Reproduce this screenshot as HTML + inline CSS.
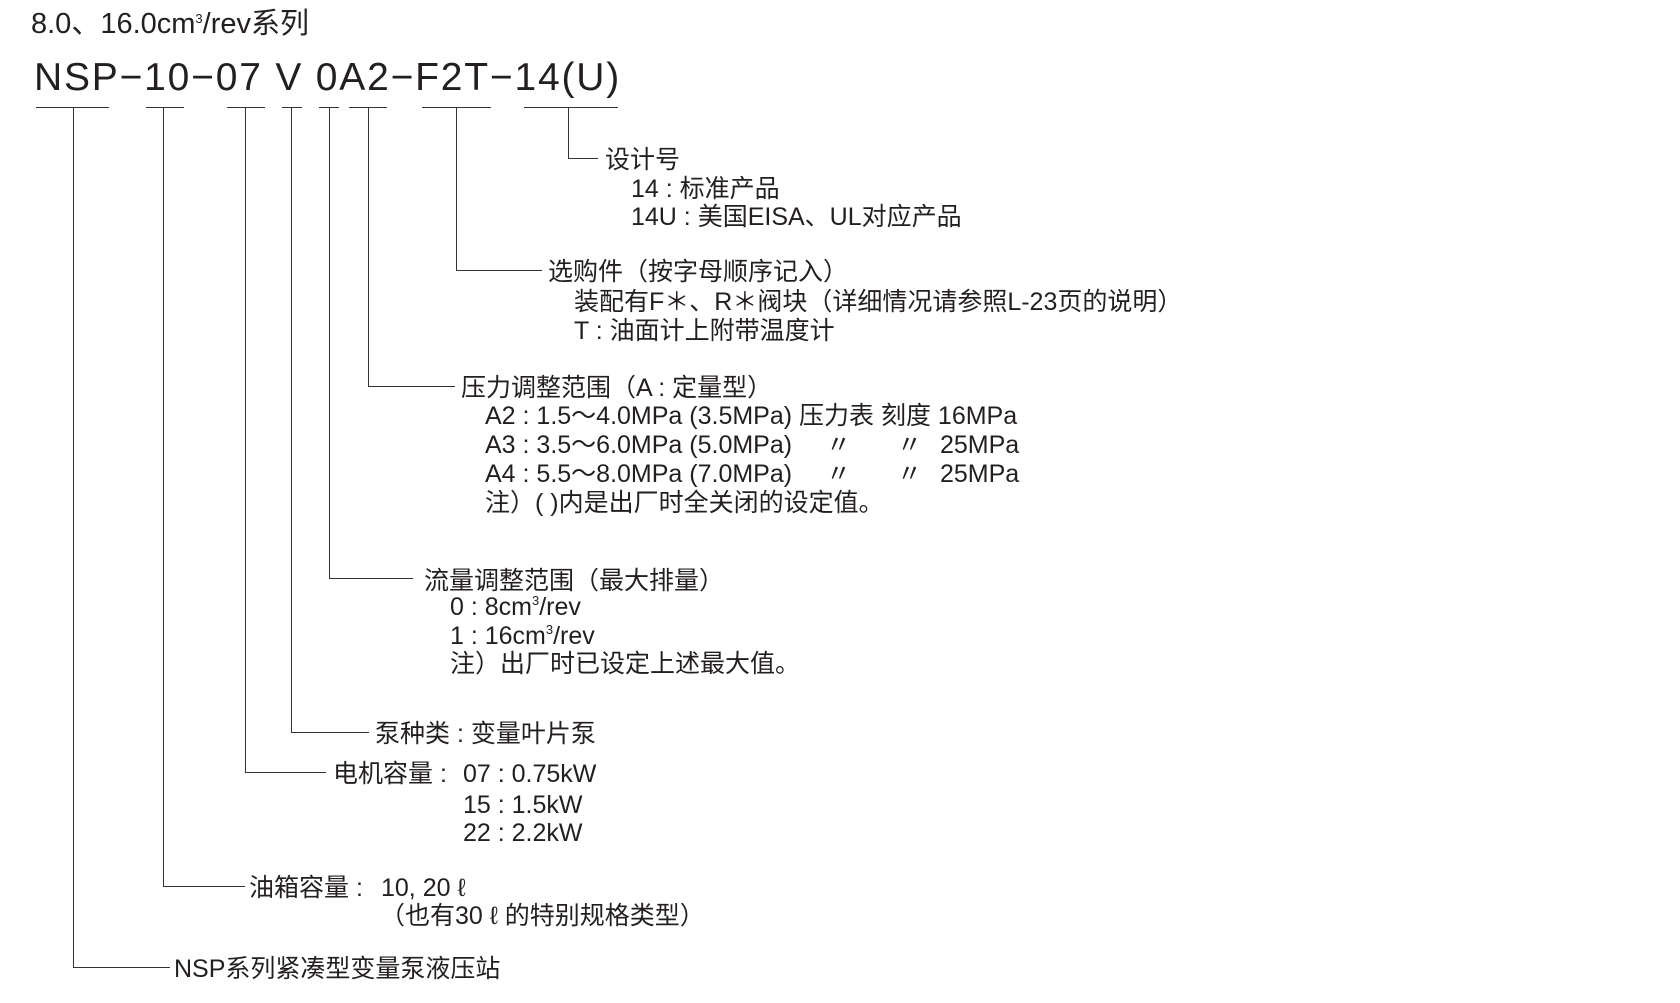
<!DOCTYPE html>
<html><head><meta charset="utf-8"><style>
body{margin:0;background:#fff;width:1680px;height:1003px;position:relative;overflow:hidden;font-family:"Liberation Sans","Noto Sans CJK SC",sans-serif;color:#231f20}
.t{position:absolute;font-size:25px;line-height:28px;white-space:pre;margin-top:3px}
.h{position:absolute;height:0;border-top:1.6px solid #333}
.v{position:absolute;width:0;border-left:1.6px solid #333}
sup{font-size:13px;vertical-align:10px;line-height:0}
</style></head><body>
<div class="t" style="left:31px;top:8px;font-size:29px;line-height:32px;margin-top:0">8.0、16.0cm<sup>3</sup>/rev系列</div>
<div class="t" style="left:34px;top:56px;font-size:39px;line-height:44px;letter-spacing:1.8px;margin-top:0">NSP−10−07 V 0A2−F2T−14(U)</div>

<div class="h" style="left:36px;width:73px;top:107px"></div>
<div class="h" style="left:146px;width:38px;top:107px"></div>
<div class="h" style="left:227px;width:38px;top:107px"></div>
<div class="h" style="left:282px;width:20px;top:107px"></div>
<div class="h" style="left:319px;width:20px;top:107px"></div>
<div class="h" style="left:349px;width:38px;top:107px"></div>
<div class="h" style="left:422px;width:69px;top:107px"></div>
<div class="h" style="left:524px;width:94px;top:107px"></div>

<div class="v" style="left:73px;top:107px;height:860px"></div>
<div class="v" style="left:163px;top:107px;height:779px"></div>
<div class="v" style="left:245px;top:107px;height:665px"></div>
<div class="v" style="left:291px;top:107px;height:625px"></div>
<div class="v" style="left:329px;top:107px;height:471px"></div>
<div class="v" style="left:368px;top:107px;height:279px"></div>
<div class="v" style="left:456px;top:107px;height:163px"></div>
<div class="v" style="left:568px;top:107px;height:51px"></div>

<div class="h" style="left:568px;width:30px;top:158px"></div>
<div class="h" style="left:456px;width:86px;top:270px"></div>
<div class="h" style="left:368px;width:87px;top:386px"></div>
<div class="h" style="left:329px;width:84px;top:578px"></div>
<div class="h" style="left:291px;width:78px;top:732px"></div>
<div class="h" style="left:245px;width:81px;top:772px"></div>
<div class="h" style="left:163px;width:82px;top:886px"></div>
<div class="h" style="left:73px;width:97px;top:967px"></div>

<div class="t" style="left:605px;top:143px">设计号</div>
<div class="t" style="left:631px;top:172px">14 : 标准产品</div>
<div class="t" style="left:631px;top:200px">14U : 美国EISA、UL对应产品</div>

<div class="t" style="left:548px;top:255px">选购件（按字母顺序记入）</div>
<div class="t" style="left:574px;top:285px">装配有F＊、R＊阀块（详细情况请参照L-23页的说明）</div>
<div class="t" style="left:574px;top:314px">T : 油面计上附带温度计</div>

<div class="t" style="left:461px;top:371px">压力调整范围（A : 定量型）</div>
<div class="t" style="left:485px;top:399px">A2 : 1.5～4.0MPa (3.5MPa) 压力表 刻度 16MPa</div>
<div class="t" style="left:485px;top:428px">A3 : 3.5～6.0MPa (5.0MPa)</div>
<div class="t" style="left:826px;top:428px">〃</div>
<div class="t" style="left:897px;top:428px">〃</div>
<div class="t" style="left:940px;top:428px">25MPa</div>
<div class="t" style="left:485px;top:457px">A4 : 5.5～8.0MPa (7.0MPa)</div>
<div class="t" style="left:826px;top:457px">〃</div>
<div class="t" style="left:897px;top:457px">〃</div>
<div class="t" style="left:940px;top:457px">25MPa</div>
<div class="t" style="left:485px;top:486px">注）( )内是出厂时全关闭的设定值。</div>

<div class="t" style="left:424px;top:564px">流量调整范围（最大排量）</div>
<div class="t" style="left:450px;top:590px">0 : 8cm<sup>3</sup>/rev</div>
<div class="t" style="left:450px;top:619px">1 : 16cm<sup>3</sup>/rev</div>
<div class="t" style="left:450px;top:647px">注）出厂时已设定上述最大值。</div>

<div class="t" style="left:375px;top:717px">泵种类 : 变量叶片泵</div>
<div class="t" style="left:333px;top:757px">电机容量 :</div>
<div class="t" style="left:463px;top:757px">07 : 0.75kW</div>
<div class="t" style="left:463px;top:788px">15 : 1.5kW</div>
<div class="t" style="left:463px;top:816px">22 : 2.2kW</div>

<div class="t" style="left:249px;top:871px">油箱容量 :</div>
<div class="t" style="left:381px;top:871px">10, 20 ℓ</div>
<div class="t" style="left:380px;top:899px">（也有30 ℓ 的特别规格类型）</div>

<div class="t" style="left:174px;top:952px">NSP系列紧凑型变量泵液压站</div>
</body></html>
